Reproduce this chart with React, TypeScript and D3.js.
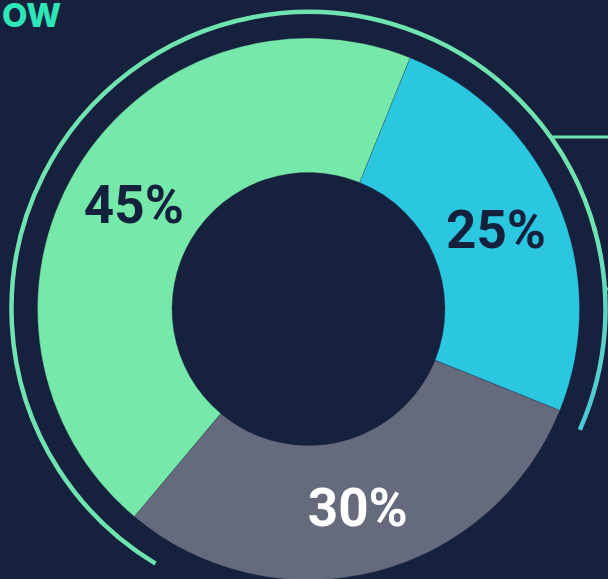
import React from "react";
import * as d3 from "d3";

const segments = ["Segment A", "Segment B", "Segment C"];
const values = [25, 30, 45];
const colors = ["#2bc7e1", "#656b7d", "#76e8a9"];
const labelColors = ["#14213d", "#ffffff", "#14213d"];
const titleText = "OW";

const W = 608;
const H = 579;
const cx = 308.5;
const cy = 309;
const innerR = 136.5;
const outerR = 271;
const ringR = 297;
const deg = Math.PI / 180;

export default function App() {
  const startA = 22 * deg;
  const pie = d3
    .pie<number>()
    .sort(null)
    .startAngle(startA)
    .endAngle(startA + 2 * Math.PI)(values);
  const arc = d3.arc<d3.PieArcDatum<number>>().innerRadius(innerR).outerRadius(outerR);

  const ringArc = d3.arc<any>().innerRadius(ringR).outerRadius(ringR);
  const ringA = ringArc({ startAngle: -149 * deg, endAngle: 75 * deg } as any) || "";
  const ringB = ringArc({ startAngle: 74 * deg, endAngle: 114 * deg } as any) || "";
  const tickY = 289;
  const tickX = cx + Math.sqrt(ringR * ringR - (tickY - cy) * (tickY - cy));
  const lineY = 137;
  const lineX = cx + Math.sqrt(ringR * ringR - (lineY - cy) * (lineY - cy));

  return (
    <svg
      width={W}
      height={H}
      style={{ position: "absolute", left: 0, top: 0, display: "block" }}
      fontFamily="Roboto, Inter, sans-serif"
    >
      <defs>
        <linearGradient id="ringGrad" gradientUnits="userSpaceOnUse" x1="0" y1={230 - cy} x2="0" y2={430 - cy}>
          <stop offset="0" stopColor="#6fe3b0" />
          <stop offset="1" stopColor="#4cc6d9" />
        </linearGradient>
      </defs>
      <rect width={W} height={H} fill="#16213e" />
      <text x={2} y={27} textAnchor="start" fill="#2ee6b8" fontSize={33} fontWeight={800}
        fontFamily="Inter, Roboto, sans-serif">
        {titleText}
      </text>
      <g transform={`translate(${cx},${cy})`}>
        <path d={ringA} fill="none" stroke="#6fe3b0" strokeWidth={4.5} strokeLinecap="round" />
        <path d={ringB} fill="none" stroke="url(#ringGrad)" strokeWidth={4.5} strokeLinecap="round" />
        {pie.map((p, i) => (
          <path key={segments[i]} d={arc(p) || ""} fill={colors[i]} stroke="#16213e" strokeOpacity={0.25} strokeWidth={1} />
        ))}
        {pie.map((p, i) => {
          const [x, y] = arc.centroid(p);
          return (
            <text
              key={"l" + segments[i]}
              x={x}
              y={y}
              dy="0.36em"
              textAnchor="middle"
              fill={labelColors[i]}
              fontSize={53}
              fontWeight={700}
            >
              {`${values[i]}%`}
            </text>
          );
        })}
      </g>
      <line x1={lineX - 1} y1={lineY} x2={W} y2={lineY} stroke="#6fe3b0" strokeWidth={3} />
      <line x1={tickX - 1} y1={tickY} x2={W} y2={tickY} stroke="#5fd6c4" strokeWidth={3} />
    </svg>
  );
}
